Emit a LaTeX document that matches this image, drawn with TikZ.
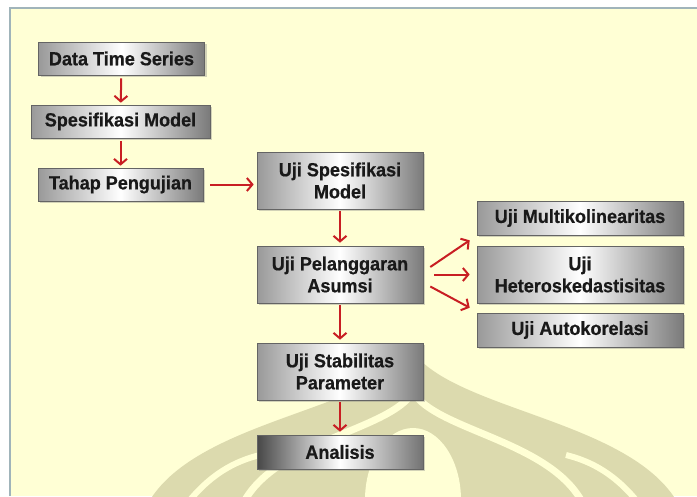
\documentclass[tikz,border=0pt]{standalone}
\usepackage{fontspec}
\setmainfont{Liberation Sans}[FakeStretch=0.95, BoldFeatures={FakeBold=0.6}]
\usetikzlibrary{positioning, shadows, arrows.meta}

\definecolor{panelyellow}{RGB}{255,255,213}
\definecolor{panelline}{RGB}{160,180,186}
\definecolor{logokhaki}{RGB}{220,218,174}
\definecolor{arrowred}{RGB}{200,30,35}
\definecolor{boxline}{RGB}{100,100,100}

\tikzset{
  stage/.style={rectangle, draw=boxline, line width=0.6pt, minimum width=166pt, minimum height=33pt,
    align=center, font=\fontsize{19}{22}\selectfont\bfseries, text=black!90,
    left color=black!40, right color=black!52, middle color=white,
    drop shadow={shadow xshift=2pt, shadow yshift=-2pt, opacity=0.35}},
  twoline/.style={minimum height=57pt},
  widebox/.style={minimum width=206pt},
  laststage/.style={left color=black!72, right color=black!55, middle color=white},
  flow/.style={draw=arrowred, line width=2pt, -{Straight Barb[length=5.5pt,width=13pt]}},
}

\begin{document}
\begin{tikzpicture}[x=1pt, y=-1pt, node distance=63pt]
	\useasboundingbox (0,0) rectangle (697,496);
	% panel
	\fill[white] (0,0) rectangle (697,496);
	\fill[panelyellow] (10,8) rectangle (697,496);
	\draw[panelline, line width=2.5pt] (10,496) -- (10,8) -- (697,8);
	
	% watermark
	\begin{scope}
		\clip (11,9) rectangle (697,496);
		\fill[logokhaki] (150,500) .. controls (200,420) and (370,410) .. (413,352) .. controls (456,410) and (626,420) .. (676,500) -- cycle;
		\draw[panelyellow, line width=7pt] (245,500) .. controls (280,440) and (390,430) .. (413,392) .. controls (436,430) and (546,440) .. (581,500);
		\fill[panelyellow] (413,500) ellipse (48 and 72);
		\draw[panelyellow, line width=6pt] (190,500) .. controls (215,470) and (240,460) .. (260,455);
		\draw[panelyellow, line width=6pt] (636,500) .. controls (611,470) and (586,460) .. (566,455);
	\end{scope}
	
	\node[stage] at (121.5,58.5) (data) {Data Time Series};
	\node[stage, minimum width=179pt, below of=data, xshift=-1pt] (spek) {Spesifikasi Model};
	\node[stage, minimum width=165pt, below of=spek] (tahap) {Tahap Pengujian};
	
	\node[stage, twoline, right of=tahap, xshift=156.5pt, yshift=4pt] (ujispek) {Uji Spesifikasi\\Model};
	\node[stage, twoline, below of=ujispek, yshift=-31pt] (asumsi) {Uji Pelanggaran\\Asumsi};
	\node[stage, twoline, below of=asumsi, yshift=-34pt] (stabil) {Uji Stabilitas\\Parameter};
	\node[stage, laststage, minimum height=34pt, below of=stabil, yshift=-17.5pt] (analisis) {Analisis};
	
	\node[stage, widebox, twoline, right of=asumsi, xshift=177pt] (hetero) {Uji\\Heteroskedastisitas};
	\node[stage, widebox, minimum height=34pt, above of=hetero, yshift=-6.5pt] (multi) {Uji Multikolinearitas};
	\node[stage, widebox, minimum height=34pt, below of=hetero, yshift=7.5pt] (auto) {Uji Autokorelasi};
	
	\draw[flow, shorten <=3pt, shorten >=2pt] (data) -- (spek);
	\draw[flow, shorten <=3pt, shorten >=2pt] (spek) -- (tahap);
	\draw[flow, shorten <=7pt, shorten >=3pt] (tahap) -- (tahap -| ujispek.west);
	\draw[flow, shorten <=2pt, shorten >=3pt] (ujispek) -- (asumsi);
	\draw[flow, shorten <=2pt, shorten >=3pt] (asumsi) -- (stabil);
	\draw[flow, shorten <=2pt, shorten >=3pt] (stabil) -- (analisis);
	
	\draw[flow] ([xshift=7pt,yshift=7.5pt]asumsi.east) -- ([xshift=-7pt,yshift=-5pt]multi.south west);
	\draw[flow] ([xshift=11pt]asumsi.east) -- ([xshift=-7pt]hetero.west);
	\draw[flow] ([xshift=7pt,yshift=-12pt]asumsi.east) -- ([xshift=-7pt,yshift=5pt]auto.north west);
\end{tikzpicture}
\end{document}
